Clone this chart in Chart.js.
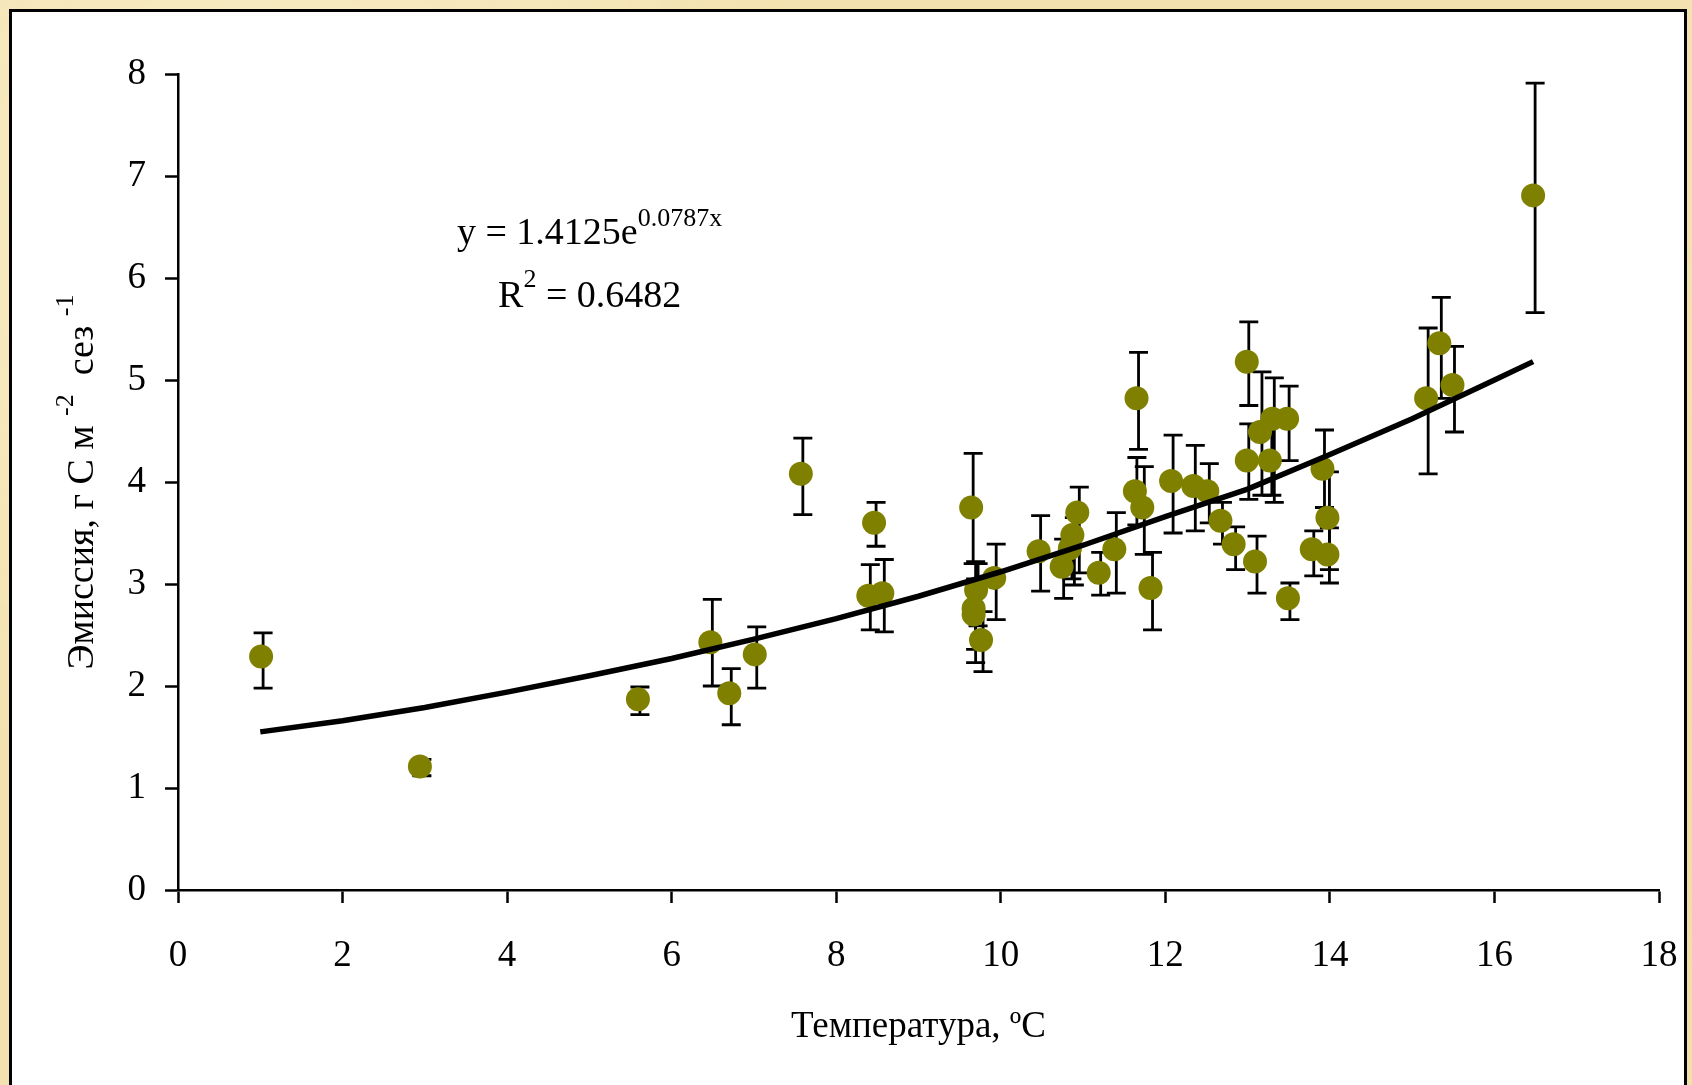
<!DOCTYPE html>
<html>
<head>
<meta charset="utf-8">
<script src="https://cdn.jsdelivr.net/npm/chart.js@4.4.1/dist/chart.umd.min.js"></script>
<style>
  html, body { margin: 0; padding: 0; width: 1692px; height: 1085px; overflow: hidden; }
  body {
    background-color: #f3e2b0;
    background-image:
      radial-gradient(circle at 15% 20%, rgba(255,248,220,0.55), rgba(255,248,220,0) 35%),
      radial-gradient(circle at 80% 70%, rgba(230,205,140,0.45), rgba(230,205,140,0) 40%),
      radial-gradient(circle at 50% 95%, rgba(255,245,210,0.5), rgba(255,245,210,0) 30%);
  }
  #frame {
    position: absolute; left: 9px; top: 9px; width: 1678px; height: 1100px;
    background: #ffffff; border: 3px solid #000; box-sizing: border-box;
  }
  #c { position: absolute; left: 0; top: 0; }
</style>
</head>
<body>
<div id="frame"></div>
<canvas id="c" width="1692" height="1085"></canvas>
<script>
// ---- data ----
const temperature = [1.01, 2.94, 5.59, 6.47, 6.70, 7.01, 7.57, 8.39, 8.46, 8.56,
  9.64, 9.67, 9.67, 9.70, 9.76, 9.92, 10.46, 10.74, 10.84, 10.87,
  10.93, 11.19, 11.38, 11.63, 11.65, 11.72, 11.82, 12.07, 12.34, 12.51,
  12.67, 12.83, 12.99, 12.99, 13.09, 13.15, 13.27, 13.30, 13.48, 13.49,
  13.78, 13.91, 13.97, 13.97, 15.17, 15.33, 15.49, 16.47];
const emission = [2.29, 1.21, 1.87, 2.43, 1.93, 2.31, 4.08, 2.885, 3.60, 2.91,
  3.75, 2.76, 2.70, 2.94, 2.45, 3.06, 3.32, 3.17, 3.35, 3.48,
  3.70, 3.11, 3.34, 3.91, 4.82, 3.75, 2.96, 4.01, 3.96, 3.91,
  3.62, 3.39, 5.18, 4.21, 3.22, 4.49, 4.21, 4.62, 4.62, 2.86,
  3.34, 4.13, 3.65, 3.29, 4.82, 5.36, 4.95, 6.81];
const errUpper = [2.52, 1.28, 1.99, 2.85, 2.17, 2.58, 4.43, 3.19, 3.80, 3.24,
  4.28, 3.22, 3.05, 3.20, 2.73, 3.39, 3.67, 3.44, 3.44, 3.65,
  3.95, 3.31, 3.70, 4.24, 5.27, 4.15, 3.31, 4.46, 4.36, 4.18,
  3.80, 3.56, 5.57, 4.57, 3.47, 5.08, 4.55, 5.02, 4.94, 3.01,
  3.52, 4.51, 4.10, 3.55, 5.51, 5.81, 5.33, 7.91];
const errLower = [1.98, 1.12, 1.72, 2.00, 1.62, 1.98, 3.68, 2.55, 3.37, 2.53,
  3.20, 2.23, 2.36, 2.59, 2.14, 2.65, 2.93, 2.86, 3.05, 2.99,
  3.11, 2.89, 2.91, 3.58, 4.32, 3.29, 2.55, 3.50, 3.52, 3.60,
  3.39, 3.14, 4.75, 3.83, 2.91, 3.87, 3.87, 3.80, 4.21, 2.65,
  3.08, 3.75, 3.14, 3.01, 4.08, 4.82, 4.49, 5.66];
// trend line values
const trendX = [1, 2, 3, 4, 5, 6, 7, 8, 9, 10, 11, 12, 13, 14, 15, 16, 16.47];
const trendY = [1.55, 1.66, 1.79, 1.94, 2.10, 2.27, 2.46, 2.66, 2.88, 3.12, 3.38, 3.66, 3.93, 4.27, 4.62, 5.00, 5.18];
const xTitle = 'Температура, ºC';
const yTitleParts = [['Эмиссия, г С м ', false], ['-2', true], ['  сез ', false], ['-1', true]];
const eqLine1 = [['y = 1.4125e', false], ['0.0787x', true]];
const eqLine2 = [['R', false], ['2', true], [' = 0.6482', false]];

const FONT = "'Liberation Serif', 'Times New Roman', serif";

const points = temperature.map((t, i) => ({ x: t, y: emission[i] }));
const trend = trendX.map((t, i) => ({ x: t, y: trendY[i] }));

function drawParts(ctx, parts, x, y, mainSize, supSize, raise) {
  let cx = x;
  for (const [txt, sup] of parts) {
    ctx.font = (sup ? supSize : mainSize) + 'px ' + FONT;
    ctx.fillText(txt, cx, sup ? y - raise : y);
    cx += ctx.measureText(txt).width;
  }
  return cx - x;
}
function measureParts(ctx, parts, mainSize, supSize) {
  let w = 0;
  for (const [txt, sup] of parts) {
    ctx.font = (sup ? supSize : mainSize) + 'px ' + FONT;
    w += ctx.measureText(txt).width;
  }
  return w;
}

const errorBars = {
  id: 'errorBars',
  beforeDatasetsDraw(chart) {
    const { ctx, scales: { x, y } } = chart;
    ctx.save();
    ctx.strokeStyle = '#000';
    ctx.lineWidth = 2.8;
    const cap = 9.5;
    for (let i = 0; i < temperature.length; i++) {
      const px = x.getPixelForValue(temperature[i]) + 2;
      const yt = y.getPixelForValue(errUpper[i]);
      const yb = y.getPixelForValue(errLower[i]);
      ctx.beginPath();
      ctx.moveTo(px, yt); ctx.lineTo(px, yb);
      ctx.moveTo(px - cap, yt); ctx.lineTo(px + cap, yt);
      ctx.moveTo(px - cap, yb); ctx.lineTo(px + cap, yb);
      ctx.stroke();
    }
    ctx.restore();
  }
};

const texts = {
  id: 'texts',
  afterDraw(chart) {
    const { ctx, chartArea, scales: { x, y } } = chart;
    ctx.save();
    ctx.fillStyle = '#000';
    ctx.textBaseline = 'alphabetic';
    ctx.textAlign = 'left';
    // regression equation (anchored in data space)
    drawParts(ctx, eqLine1, x.getPixelForValue(3.39), y.getPixelForValue(6.33), 38, 26, 18);
    drawParts(ctx, eqLine2, x.getPixelForValue(3.89), y.getPixelForValue(5.72), 38, 26, 20);
    // y axis title with superscripts
    const w = measureParts(ctx, yTitleParts, 38, 26);
    const cy = (chartArea.top + chartArea.bottom) / 2;
    ctx.translate(93, cy);
    ctx.rotate(-Math.PI / 2);
    drawParts(ctx, yTitleParts, -w / 2, 0, 38, 26, 20);
    ctx.restore();
  }
};

new Chart(document.getElementById('c'), {
  type: 'scatter',
  data: {
    datasets: [
      {
        type: 'line',
        label: 'trend',
        data: trend,
        borderColor: '#000',
        borderWidth: 5.5,
        pointRadius: 0,
        tension: 0,
        fill: false,
        clip: false,
        order: 0
      },
      {
        label: 'points',
        data: points,
        pointRadius: 12,
        pointHoverRadius: 12,
        backgroundColor: '#808000',
        borderWidth: 0,
        clip: false,
        order: 1
      }
    ]
  },
  options: {
    responsive: false,
    devicePixelRatio: 1,
    animation: false,
    layout: { autoPadding: false, padding: { left: 0, right: 33, top: 74, bottom: 0 } },
    plugins: { legend: { display: false }, tooltip: { enabled: false } },
    scales: {
      x: {
        type: 'linear', min: 0, max: 18,
        ticks: { stepSize: 2, color: '#000', font: { family: FONT, size: 37 }, padding: 31, maxRotation: 0 },
        grid: { display: true, drawOnChartArea: false, drawTicks: true, tickLength: 13, tickWidth: 2.5, tickColor: '#000' },
        border: { display: true, color: '#000', width: 2.5 },
        title: { display: true, text: xTitle, color: '#000', font: { family: FONT, size: 37 }, padding: { top: 10, bottom: 36 } },
        afterFit(s) { s.height = 195; s.paddingLeft = 0; s.paddingRight = 0; }
      },
      y: {
        type: 'linear', min: 0, max: 8,
        ticks: { stepSize: 1, color: '#000', font: { family: FONT, size: 37 }, padding: 19 },
        grid: { display: true, drawOnChartArea: false, drawTicks: true, tickLength: 13, tickWidth: 2.5, tickColor: '#000' },
        border: { display: true, color: '#000', width: 2.5 },
        afterFit(s) { s.width = 178; }
      }
    }
  },
  plugins: [errorBars, texts]
});
</script>
</body>
</html>
